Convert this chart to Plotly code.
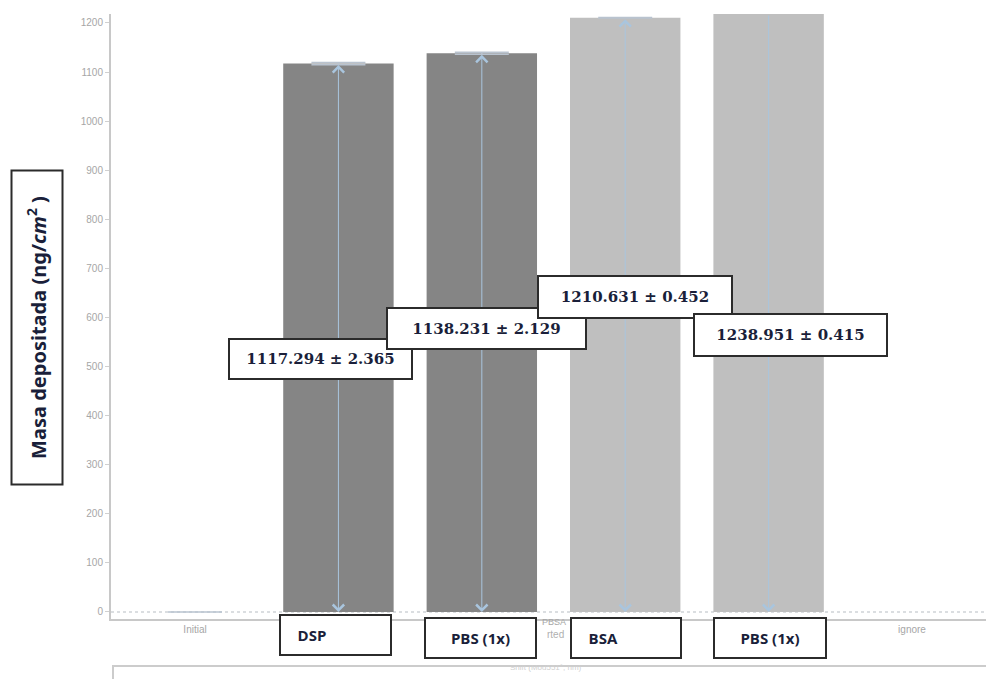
import plotly.graph_objects as go

# ---------------- data ----------------
categories = ["Initial", "DSP", "PBS (1x)", "BSA", "PBS (1x)", "ignore"]
mass_values = [0, 1117.294, 1138.231, 1210.631, 1238.951, None]
mass_errors = [None, 2.365, 2.129, 0.452, 0.415, None]
value_labels = ["1117.294 ± 2.365", "1138.231 ± 2.129", "1210.631 ± 0.452", "1238.951 ± 0.415"]
step_labels = ["DSP", "PBS (1x)", "BSA", "PBS (1x)"]
axis_tick_labels = ["Initial", "", "", "", "", "ignore"]
y_ticks = [0, 100, 200, 300, 400, 500, 600, 700, 800, 900, 1000, 1100, 1200]
y_title = "Masa depositada (ng/<i>cm</i><sup>2</sup> )"
x_title_fragments = ["PBSA", "rted"]
legend_fragment = "Shift (Mod551°, nm)"

# ---------------- styling / layout helpers ----------------
W, H = 986, 679
L, R, T, B = 111, 986, 14, 619          # plot area in pixels
Y_RANGE = [-14.3, 1218.3]
X_RANGE = [-0.586, 5.516]


def px(x):
    return (x - L) / (R - L)


def py(y):
    return (B - y) / (B - T)


dark, light = "#858585", "#bfbfbf"
bar_colors = [dark, dark, dark, light, light, light]
xs = list(range(len(categories)))
shown_ticks = [(x, t) for x, t in zip(xs, axis_tick_labels) if t]

fig = go.Figure()
fig.add_trace(go.Bar(
    x=xs, y=mass_values, width=0.77,
    marker=dict(color=bar_colors, line=dict(width=0)),
    error_y=dict(type="data", array=mass_errors, color="#b9c3cf",
                 thickness=1.5, width=27),
    hoverinfo="skip", showlegend=False,
))

annotations = []

# light-blue arrows from 0 up to each mean value
for i, v in enumerate(mass_values):
    if not v:
        continue
    top = min(v, Y_RANGE[1])
    annotations.append(dict(
        x=xs[i], y=0, ax=xs[i], ay=top, xref="x", yref="y", axref="x", ayref="y",
        text="", showarrow=True, arrowhead=4, startarrowhead=4,
        arrowside="end+start" if v <= Y_RANGE[1] else "end",
        arrowsize=2.2, startarrowsize=2.2, arrowwidth=1, arrowcolor="#a9c5de",
    ))

# faint axis-title fragments peeking between the boxes
annotations.append(dict(x=px(554), y=py(629), xref="paper", yref="paper",
                        text=x_title_fragments[0], showarrow=False,
                        font=dict(size=9, color="#a6a6a6", family="Liberation Sans")))
annotations.append(dict(x=px(555), y=py(642), xref="paper", yref="paper",
                        text=x_title_fragments[1], showarrow=False,
                        font=dict(size=10, color="#b0b0b0", family="Liberation Sans")))
annotations.append(dict(x=px(546), y=py(674), xref="paper", yref="paper",
                        text=legend_fragment, showarrow=False,
                        font=dict(size=8, color="#d0d0d0", family="Liberation Sans")))

# value boxes (mean ± sd)
value_boxes = [(320.5, 359, 185, 42), (486.5, 328.5, 201, 43),
               (635, 297, 196, 44), (790.5, 335, 195, 44)]
for lab, (cx, cy, bw, bh) in zip(value_labels, value_boxes):
    annotations.append(dict(
        x=px(cx), y=py(cy), xref="paper", yref="paper", xanchor="center", yanchor="middle",
        text="<b>%s</b>" % lab, showarrow=False, width=bw - 6, height=bh - 6,
        bgcolor="white", bordercolor="#2b2b2b", borderwidth=2, borderpad=1,
        font=dict(size=15, color="#1a1f3a", family="DejaVu Serif"),
    ))

# step boxes under the bars
step_boxes = [(335.5, 635, 113, 42, "left"), (480.5, 638, 113, 42, "center"),
              (626, 638, 112, 42, "left"), (770, 638, 114, 42, "center")]
for lab, (cx, cy, bw, bh, al) in zip(step_labels, step_boxes):
    txt = ("\u00a0" * 4 + lab) if al == "left" else lab
    annotations.append(dict(
        x=px(cx), y=py(cy), xref="paper", yref="paper", xanchor="center", yanchor="middle",
        text="<b>%s</b>" % txt, showarrow=False, width=bw - 6, height=bh - 6, align=al,
        bgcolor="white", bordercolor="#2b2b2b", borderwidth=2, borderpad=1,
        font=dict(size=15, color="#1a1f3a", family="Open Sans"),
    ))

# y-axis title in a box
annotations.append(dict(
    x=px(36.5), y=py(328), xref="paper", yref="paper", xanchor="center", yanchor="middle",
    text="<b>%s</b>" % y_title, textangle=-90, showarrow=False, width=310, height=47,
    bgcolor="white", bordercolor="#2b2b2b", borderwidth=2, borderpad=1,
    font=dict(size=20, color="#1a1f3a", family="Noto Sans"),
))

shapes = [
    dict(type="line", xref="paper", yref="y", x0=0, x1=1, y0=0, y1=0, layer="below",
         line=dict(color="#cfd3d8", width=1.5, dash="dot")),
    dict(type="rect", xref="paper", yref="paper", x0=px(113), x1=px(1000),
         y0=py(666), y1=py(710), line=dict(color="#cccccc", width=2), fillcolor="white"),
]

fig.update_layout(
    width=W, height=H,
    margin=dict(l=L, r=W - R, t=T, b=H - B, pad=0),
    paper_bgcolor="white", plot_bgcolor="white",
    bargap=0.2,
    xaxis=dict(range=X_RANGE, tickvals=[s[0] for s in shown_ticks],
               ticktext=[s[1] for s in shown_ticks],
               showgrid=False, zeroline=False, showline=True, linecolor="#c8c8c8",
               linewidth=2, ticks="", tickfont=dict(size=10, color="#a6a6a6",
                                                     family="Liberation Sans")),
    yaxis=dict(range=Y_RANGE, tickvals=y_ticks, showgrid=False, zeroline=False,
               showline=True, linecolor="#c8c8c8", linewidth=2, ticks="outside",
               ticklen=4, tickcolor="#d0d0d0",
               tickfont=dict(size=10, color="#a6a6a6", family="Liberation Sans")),
    annotations=annotations,
    shapes=shapes,
)

fig.write_html("out.html", config={"displayModeBar": False},
               post_script="document.body.style.margin='0';document.body.style.overflow='hidden';")
